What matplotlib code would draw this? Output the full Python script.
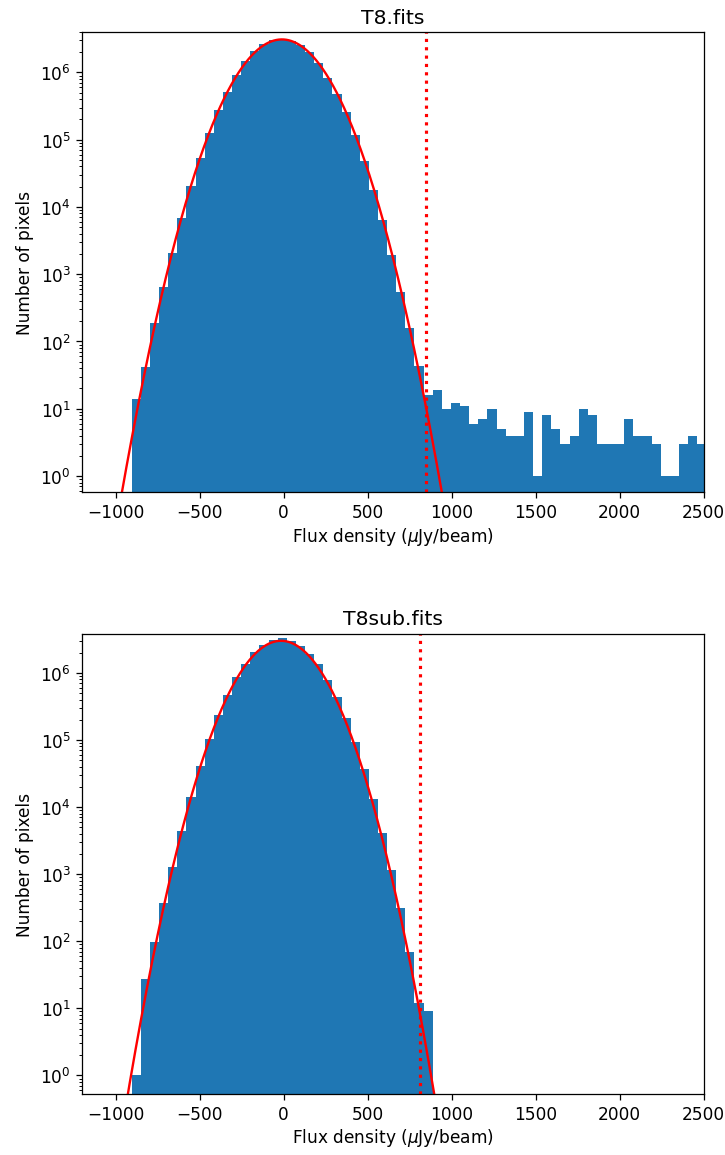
import matplotlib
matplotlib.use("Agg")
import matplotlib.pyplot as plt
import numpy as np

plt.rcParams['font.size'] = 10.8

# histogram bins (uJy/beam), same grid for both maps
bin_lo = -904.0
bin_width = 54.3
n_bins_top = 63
n_bins_sub = 33

# pixel counts per bin, T8.fits
counts_t8 = [14, 42, 190, 650, 2100, 6900, 2.05e4, 5.4e4, 1.27e5, 2.73e5,
             5.2e5, 9.1e5, 1.46e6, 2.08e6, 2.64e6, 3.03e6, 3.1e6, 2.96e6, 2.54e6, 1.99e6,
             1.37e6, 8.4e5, 4.75e5, 2.54e5, 1.16e5, 4.85e4, 1.78e4, 6400, 1930, 550,
             160, 43, 16, 19, 10, 12, 11, 6, 7, 10,
             5, 4, 4, 9, 1, 8, 5, 3, 4, 10,
             8, 3, 3, 3, 7, 4, 4, 3, 1, 1,
             3, 4, 3]

# pixel counts per bin, T8sub.fits
counts_t8sub = [1, 27, 98, 369, 1280, 4390, 1.41e4, 4.07e4, 1.05e5, 2.39e5,
                4.75e5, 8.6e5, 1.37e6, 2.03e6, 2.64e6, 3.13e6, 3.27e6, 2.95e6, 2.55e6, 1.94e6,
                1.34e6, 7.9e5, 4.4e5, 2.1e5, 9.3e4, 3.64e4, 1.3e4, 4160, 1156, 309,
                70, 12, 9]

# gaussian fits (amplitude, mean, sigma) and the clipping threshold
fit_t8 = (3.1e6, -10.0, 171.0)
fit_t8sub = (3.0e6, -15.0, 163.5)
thresh_t8 = 845.0
thresh_t8sub = 810.0

titles = ["T8.fits", "T8sub.fits"]


def gauss(x, a, mu, sig):
    return a * np.exp(-(x - mu) ** 2 / (2 * sig ** 2))


fig, axes = plt.subplots(2, 1, figsize=(6.4, 10.2))
fig.subplots_adjust(left=0.113, right=0.970, top=0.9715, bottom=0.0528, hspace=0.3065)

panels = [(counts_t8, n_bins_top, fit_t8, thresh_t8),
          (counts_t8sub, n_bins_sub, fit_t8sub, thresh_t8sub)]

xx = np.linspace(-1200, 2500, 2000)
for ax, title, (counts, nb, fit, thr) in zip(axes, titles, panels):
    edges = bin_lo + bin_width * np.arange(nb + 1)
    ax.bar(edges[:-1], counts, width=np.diff(edges), align='edge',
           color='#1f77b4', log=True)
    ax.plot(xx, gauss(xx, *fit), color='red', lw=1.5)
    ax.axvline(thr, color='red', ls=':', lw=2)
    ax.set_yscale('log')
    ax.set_xlim(-1200, 2500)
    ax.set_title(title)
    ax.set_xlabel(r'Flux density ($\mu$Jy/beam)', labelpad=2)
    ax.set_ylabel('Number of pixels')

axes[0].set_ylim(0.57, 4.0e6)
axes[1].set_ylim(0.53, 3.85e6)

fig.savefig("out.png", dpi=113.33)
